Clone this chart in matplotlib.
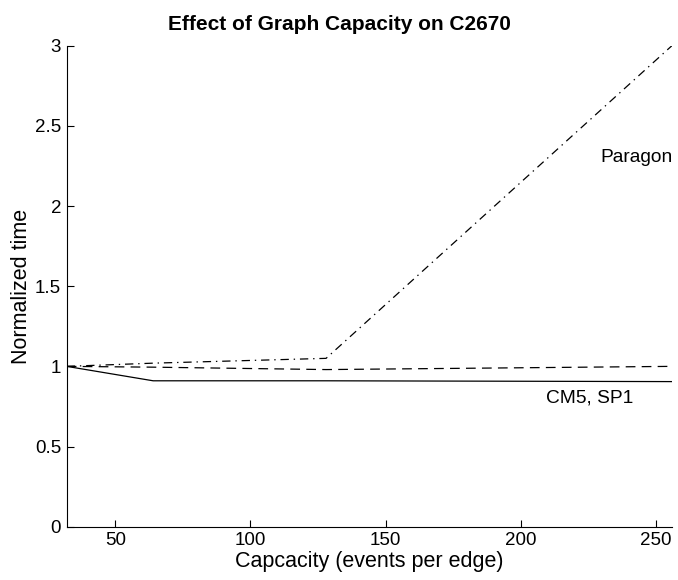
import matplotlib
matplotlib.use("Agg")
import matplotlib.pyplot as plt

plt.rcParams['font.family'] = ['Liberation Sans', 'DejaVu Sans']
plt.rcParams['lines.scale_dashes'] = False

# Graph capacity (events per edge)
capacity = [32, 64, 128, 256]

# Normalized execution time per machine
cm5 = [1.0, 0.91, 0.91, 0.905]
sp1 = [1.0, 0.995, 0.98, 1.0]
paragon = [1.0, 1.02, 1.05, 3.0]

title = "Effect of Graph Capacity on C2670"
xlabel = "Capcacity (events per edge)"
ylabel = "Normalized time"
xticks = [50, 100, 150, 200, 250]
yticks = [0, 0.5, 1, 1.5, 2, 2.5, 3]
yticklabels = ["0", "0.5", "1", "1.5", "2", "2.5", "3"]

fig = plt.figure(figsize=(6.78, 5.8), dpi=100)
ax = fig.add_axes([0.0984, 0.0919, 0.8926, 0.8293])

ax.plot(capacity, cm5, color='black', lw=0.9, solid_joinstyle='miter')
ax.plot(capacity, sp1, color='black', lw=0.9, dashes=(7, 4.5))
ax.plot(capacity, paragon, color='black', lw=0.9, dashes=(6, 3.5, 1, 3.5))

ax.text(229.5, 2.30, "Paragon", fontsize=13.8, va='center', ha='left')
ax.text(209.5, 0.80, "CM5, SP1", fontsize=13.8, va='center', ha='left')

ax.set_xlim(32, 256)
ax.set_ylim(0, 3)
ax.set_xticks(xticks)
ax.set_yticks(yticks)
ax.set_yticklabels(yticklabels)
ax.tick_params(direction='in', length=5, width=0.8, labelsize=13.5, pad=4)
for side in ('top', 'right'):
    ax.spines[side].set_visible(False)
for side in ('left', 'bottom'):
    ax.spines[side].set_linewidth(0.8)

ax.set_xlabel(xlabel, fontsize=15.5, labelpad=1)
ax.set_ylabel(ylabel, fontsize=15.5, labelpad=2)
fig.text(0.5, 1 - 25 / 580, title, fontsize=15, fontweight='bold',
         ha='center', va='center')

fig.savefig("out.png", dpi=100)
